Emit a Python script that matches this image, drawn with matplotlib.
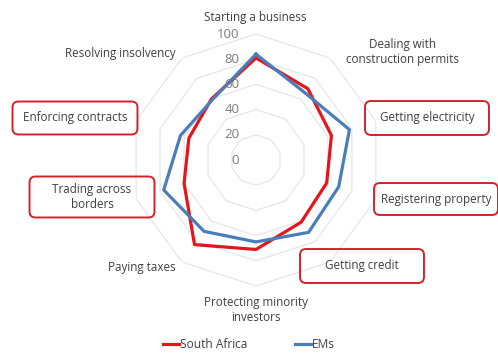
import matplotlib.pyplot as plt
import numpy as np
from matplotlib.patches import FancyBboxPatch
from matplotlib.lines import Line2D

categories = ['Starting a business', 'Dealing with\nconstruction permits', 'Getting electricity',
              'Registering property', 'Getting credit', 'Protecting minority\ninvestors',
              'Paying taxes', 'Trading across\nborders', 'Enforcing contracts', 'Resolving insolvency']
south_africa = [81, 70, 63, 59, 61, 71, 83, 60, 56, 60]
ems = [84, 66, 78, 69, 71, 65, 70, 77, 63, 59]
rings = [0, 20, 40, 60, 80, 100]
highlighted = ['Getting electricity', 'Registering property', 'Getting credit',
               'Trading across\nborders', 'Enforcing contracts']

plt.rcParams['font.family'] = ['Open Sans', 'DejaVu Sans']
W, H = 498, 354
fig = plt.figure(figsize=(W / 100, H / 100), dpi=100)
ax = fig.add_axes([0.261, 0.192, 0.506, 0.712], projection='polar')
ax.set_theta_zero_location('N')
ax.set_theta_direction(-1)
ax.set_ylim(0, 100)
ax.grid(False)
ax.spines['polar'].set_visible(False)
ax.set_xticks([])
ax.set_yticks([])

n = len(categories)
theta = np.linspace(0, 2 * np.pi, n, endpoint=False)
theta_c = np.append(theta, theta[0])

for r in rings[1:]:
    ax.plot(theta_c, [r] * (n + 1), color='#E8E8E8', lw=1.0, zorder=1)
for r in rings:
    ax.annotate(str(r), xy=(0, r), xytext=(-12, 0), textcoords='offset points',
                ha='right', va='center', fontsize=9.5, color='#7F7F7F')

ax.plot(theta_c, south_africa + south_africa[:1], color='#E8141B', lw=2.3, zorder=3)
ax.plot(theta_c, ems + ems[:1], color='#4A7EBB', lw=2.3, zorder=4)

# label positions in pixels (x, y from top)
label_pos = [(255, 18), (402, 52), (427, 118), (436, 199), (362, 266),
             (256, 310), (142, 267), (92, 197), (75, 118), (120, 53)]
box_size = {'Getting electricity': (124, 34), 'Registering property': (124, 32),
            'Getting credit': (124, 34), 'Trading across\nborders': (125, 41),
            'Enforcing contracts': (125, 33)}

for name, (px, py) in zip(categories, label_pos):
    fig.text(px / W, 1 - py / H, name, ha='center', va='center', fontsize=8.4,
             color='#404040', linespacing=1.15)
    if name in highlighted:
        bw, bh = box_size[name]
        patch = FancyBboxPatch(((px - bw / 2 + 5) / W, 1 - (py + bh / 2 - 5) / H),
                               (bw - 10) / W, (bh - 10) / H,
                               boxstyle='round,pad=0.01,rounding_size=0.012',
                               transform=fig.transFigure, fc='none', ec='#D2232A',
                               lw=1.4, mutation_aspect=W / H)
        fig.add_artist(patch)

handles = [Line2D([], [], color='#E8141B', lw=2.3), Line2D([], [], color='#4A7EBB', lw=2.3)]
fig.legend(handles, ['South Africa', 'EMs'], loc='center', bbox_to_anchor=(0.5, 1 - 345 / H),
           ncol=2, frameon=False, fontsize=8.6, handlelength=1.3, handletextpad=0.1,
           columnspacing=4.0, labelcolor='#404040')

plt.savefig('out.png', dpi=100)
